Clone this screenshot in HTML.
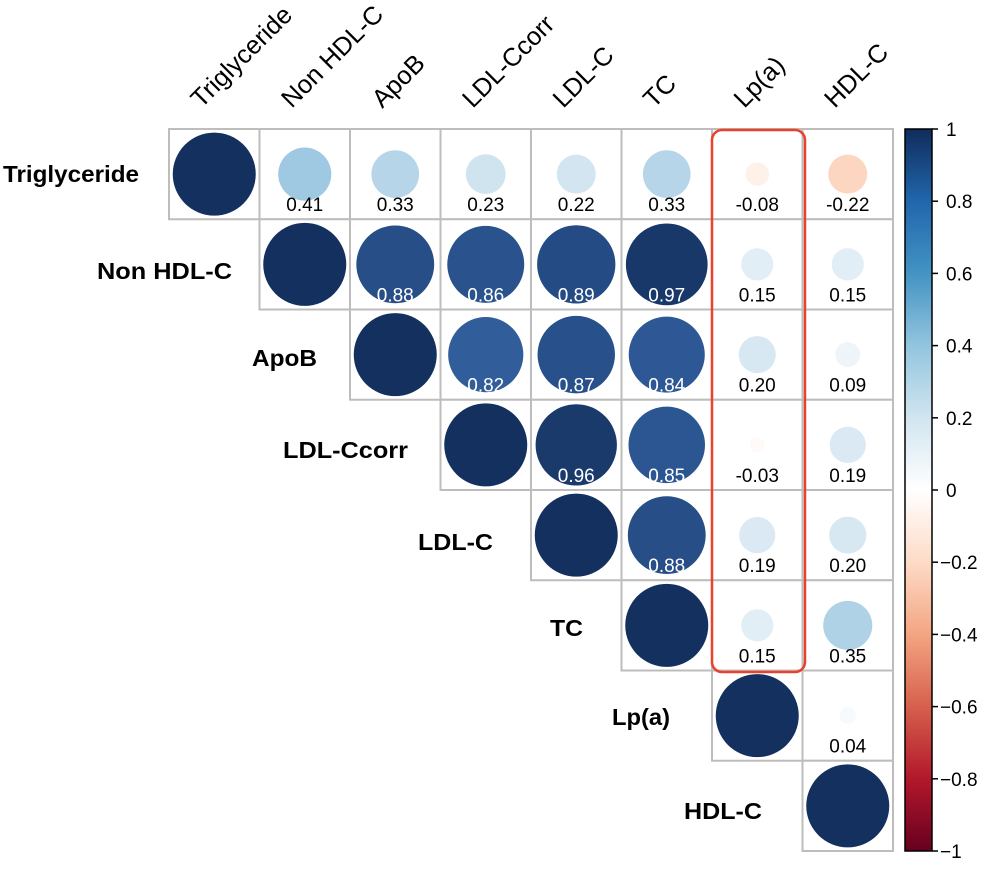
<!DOCTYPE html>
<html><head><meta charset="utf-8">
<style>
html,body{margin:0;padding:0;background:#fff;}
svg{display:block;font-family:"Liberation Sans",Arial,sans-serif;}
</style></head>
<body>
<svg id="chart" width="992" height="869" viewBox="0 0 992 869">
<defs>
<linearGradient id="cbgrad" x1="0" y1="1" x2="0" y2="0">
<stop offset="0" stop-color="#67001F"/><stop offset="0.1" stop-color="#B2182B"/>
<stop offset="0.2" stop-color="#D6604D"/><stop offset="0.3" stop-color="#F4A582"/>
<stop offset="0.4" stop-color="#FDDBC7"/><stop offset="0.5" stop-color="#FFFFFF"/>
<stop offset="0.6" stop-color="#D1E5F0"/><stop offset="0.7" stop-color="#92C5DE"/>
<stop offset="0.8" stop-color="#4393C3"/><stop offset="0.9" stop-color="#2166AC"/>
<stop offset="1" stop-color="#0f2c5c"/>
</linearGradient>
</defs>
<g id="grid"></g>
<g id="labels"></g>
<rect x="712" y="130" width="93" height="542" rx="10" ry="10" fill="none" stroke="#e8412c" stroke-width="2.5"/>
<g id="colorbar">
<rect x="905" y="129" width="27" height="722" fill="url(#cbgrad)" stroke="#000" stroke-width="1.5"/>
</g>
</svg>
<script>
const variables = ["Triglyceride","Non HDL-C","ApoB","LDL-Ccorr","LDL-C","TC","Lp(a)","HDL-C"];
const row0 = [1, 0.41, 0.33, 0.23, 0.22, 0.33, -0.08, -0.22];
const row1 = [1, 0.88, 0.86, 0.89, 0.97, 0.15, 0.15];
const row2 = [1, 0.82, 0.87, 0.84, 0.20, 0.09];
const row3 = [1, 0.96, 0.85, -0.03, 0.19];
const row4 = [1, 0.88, 0.19, 0.20];
const row5 = [1, 0.15, 0.35];
const row6 = [1, 0.04];
const row7 = [1];
const rows = [row0,row1,row2,row3,row4,row5,row6,row7];
const cbTicks = [1,0.8,0.6,0.4,0.2,0,-0.2,-0.4,-0.6,-0.8,-1];
const cbTickLabels = ["1","0.8","0.6","0.4","0.2","0","\u22120.2","\u22120.4","\u22120.6","\u22120.8","\u22121"];

// row label layout (not data): right edge, baseline, width
const rowLabelRight=[139,232,317,408,493,583,670,762];
const rowLabelBase=[182,279,366,458,550,636,725,819];
const rowLabelW=[136,135,65,125,75,33,58,78];

const NS="http://www.w3.org/2000/svg";
const X0=169, Y0=129, CW=90.5, CH=90.25, RMAX=41.5;
const xCell=i=>X0+i*CW, yCell=i=>Y0+i*CH;
const cbY=v=>490-v*361;
const stops=["#67001F","#B2182B","#D6604D","#F4A582","#FDDBC7","#FFFFFF","#D8E8F2","#A3CBE3","#5592C6","#3462A2","#13305F"];
function hex(h){return [1,3,5].map(k=>parseInt(h.substr(k,2),16));}
function color(v){
  const t=(v+1)/2*10; const i=Math.min(9,Math.floor(t)); const f=t-i;
  const a=hex(stops[i]), b=hex(stops[i+1]);
  return "rgb("+a.map((c,k)=>Math.round(c+(b[k]-c)*f)).join(",")+")";
}
function mk(tag,attrs,parent){const e=document.createElementNS(NS,tag);for(const k in attrs)e.setAttribute(k,attrs[k]);parent.appendChild(e);return e;}
const grid=document.getElementById('grid'), labels=document.getElementById('labels'), cb=document.getElementById('colorbar');

rows.forEach((r,ri)=>{
  r.forEach((v,k)=>{
    const ci=ri+k;
    const x=xCell(ci), y=yCell(ri);
    const cell=mk('rect',{x:x,y:y,width:CW,height:CH,fill:'#fff',stroke:'#bdbdbd','stroke-width':2},grid);
    
    
    const c=mk('circle',{cx:x+CW/2,cy:y+CH/2,r:Math.sqrt(Math.abs(v))*RMAX,fill:color(v)},grid);
    
    
    if(ci!==ri){
      const t=mk('text',{x:x+CW/2,y:y+CH/2+37,'text-anchor':'middle','font-size':19,fill:Math.abs(v)>=0.8?'#fff':'#000'},grid);
      t.textContent=v.toFixed(2);
      
      
    }
  });
});
variables.forEach((name,i)=>{
  const t=mk('text',{x:rowLabelRight[i]-rowLabelW[i],y:rowLabelBase[i],'font-size':23,'font-weight':'bold',fill:'#000',textLength:rowLabelW[i],lengthAdjust:'spacingAndGlyphs'},labels);
  t.textContent=name;
  
  
  const cx=xCell(i)+CW/2-13, cy=109;
  const c=mk('text',{x:cx,y:cy,'font-size':25.5,fill:'#000',transform:'rotate(-45 '+cx+' '+cy+')'},labels);
  c.textContent=name;
  
  
});
cbTicks.forEach((v,i)=>{
  const y=cbY(v);
  const l=mk('line',{x1:932,x2:938,y1:y,y2:y,stroke:'#000','stroke-width':1.5},cb);
  
  
  const t=mk('text',{x:v<0?940:946,y:y+7,'font-size':19,fill:'#000'},cb);
  t.textContent=cbTickLabels[i];
  
  
});
</script>
</body></html>
